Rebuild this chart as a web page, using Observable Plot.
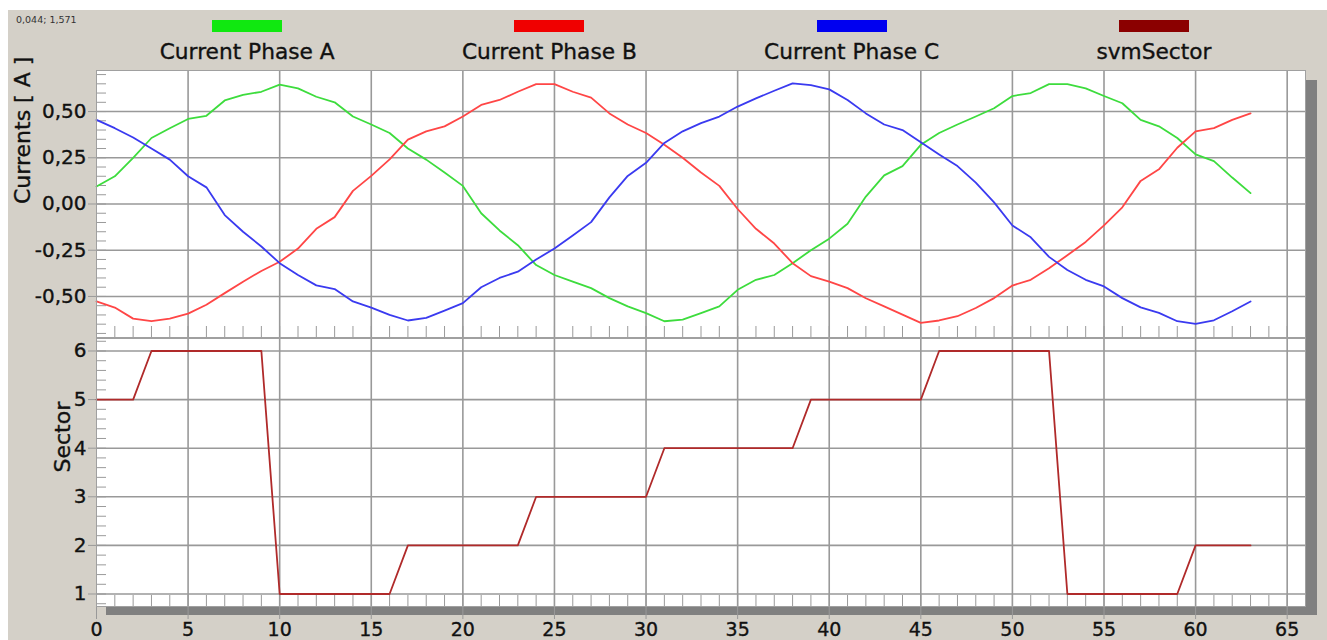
<!DOCTYPE html>
<html>
<head>
<meta charset="utf-8">
<script src="https://cdn.jsdelivr.net/npm/d3@7"></script>
<script src="https://cdn.jsdelivr.net/npm/@observablehq/plot@0.6"></script>
<style>
html, body { margin:0; padding:0; background:#fff; }
#wrap { position:relative; width:1327px; height:640px; overflow:hidden; background:#fff; font-family:"DejaVu Sans", sans-serif; }
#bg { position:absolute; left:8px; top:10px; width:1319px; height:630px; background:#d4d0c8; }
#coord { position:absolute; left:16px; top:14px; font-size:9.5px; line-height:12px; color:#333; }
#shadow { position:absolute; left:106px; top:80px; width:1211px; height:535px; background:#808080; }
#legend { position:absolute; left:96px; top:0; width:1209px; height:66px; display:flex; }
.item { flex:1; position:relative; }
.sw { position:absolute; left:50%; margin-left:-35px; top:20px; width:70px; height:12px; }
.lab { position:absolute; left:0; right:0; top:41px; text-align:center; font-size:21.7px; line-height:21.7px; color:#111; white-space:nowrap; -webkit-text-stroke:0.35px #111; }
#top { position:absolute; left:0; top:0; width:1327px; }
#bottom { position:absolute; left:0; top:337px; width:1327px; }
svg { display:block; }
</style>
</head>
<body>
<div id="wrap">
  <div id="bg"></div>
  <div id="coord">0,044; 1,571</div>
  <div id="shadow"></div>
  <div id="top"></div>
  <div id="bottom"></div>
  <div id="legend"></div>
</div>
<script>
// ---- data ----
const phaseA = [0.095,0.15,0.25,0.357,0.41,0.46,0.477,0.56,0.59,0.607,0.646,0.625,0.58,0.55,0.473,0.43,0.384,0.30,0.24,0.17,0.098,-0.05,-0.143,-0.223,-0.33,-0.384,-0.42,-0.455,-0.509,-0.554,-0.59,-0.634,-0.625,-0.59,-0.554,-0.464,-0.41,-0.384,-0.32,-0.25,-0.1875,-0.107,0.04,0.155,0.205,0.32,0.384,0.43,0.473,0.518,0.584,0.60,0.648,0.648,0.625,0.584,0.545,0.455,0.42,0.357,0.268,0.232,0.143,0.059];
const phaseB = [-0.527,-0.56,-0.62,-0.634,-0.62,-0.593,-0.545,-0.482,-0.42,-0.362,-0.3125,-0.241,-0.134,-0.071,0.071,0.152,0.241,0.348,0.393,0.42,0.473,0.536,0.5625,0.607,0.648,0.648,0.607,0.575,0.49,0.43,0.384,0.32,0.25,0.17,0.098,-0.027,-0.134,-0.214,-0.32,-0.39,-0.42,-0.455,-0.51,-0.554,-0.598,-0.643,-0.63,-0.607,-0.5625,-0.509,-0.441,-0.41,-0.348,-0.277,-0.205,-0.116,-0.018,0.125,0.1875,0.304,0.393,0.41,0.455,0.49];
const phaseC = [0.455,0.41,0.36,0.30,0.24,0.15,0.09,-0.06,-0.15,-0.23,-0.32,-0.384,-0.44,-0.46,-0.527,-0.56,-0.60,-0.63,-0.616,-0.577,-0.536,-0.45,-0.40,-0.366,-0.30,-0.241,-0.17,-0.098,0.036,0.152,0.223,0.33,0.393,0.4375,0.473,0.527,0.571,0.6125,0.652,0.643,0.62,0.5625,0.49,0.43,0.40,0.334,0.268,0.205,0.116,0.009,-0.116,-0.18,-0.286,-0.357,-0.41,-0.446,-0.509,-0.559,-0.589,-0.634,-0.648,-0.629,-0.58,-0.527];
const svmSector = [5,5,5,6,6,6,6,6,6,6,1,1,1,1,1,1,1,2,2,2,2,2,2,2,3,3,3,3,3,3,3,4,4,4,4,4,4,4,4,5,5,5,5,5,5,5,6,6,6,6,6,6,6,1,1,1,1,1,1,1,2,2,2,2];

const xTicks = [0,5,10,15,20,25,30,35,40,45,50,55,60,65];
const currentTicks = [-0.5,-0.25,0,0.25,0.5];
const sectorTicks = [1,2,3,4,5,6];
const seriesNames = ["Current Phase A","Current Phase B","Current Phase C","svmSector"];
const legendColors = ["#10e810","#f00000","#0000f0","#8b0000"];
const lineColors = ["#3ddc3d","#ff4646","#3a3af0","#b02a2a"];
const yTitleTop = "Currents [ A ]";
const yTitleBottom = "Sector";

// ---- layout constants ----
const W = 1327, ML = 96, MR = 22;
const gridColor = "#999999", tickColor = "#9a9a9a", frameColor = "#a0a0a0", textColor = "#111111";
const rows = phaseA.map((a, i) => ({t: i, a, b: phaseB[i], c: phaseC[i], s: svmSector[i]}));
const minorX = d3.range(1, 66);
const minorCurrent = d3.range(-14, 15).map(i => i / 20);
const minorSector = d3.range(4, 32).map(i => i / 5);
const comma2 = d => (Math.abs(d) < 1e-9 ? 0 : d).toFixed(2).replace(".", ",");
const baseStyle = {fontFamily: "DejaVu Sans", fontSize: "20px", background: "transparent", color: textColor, overflow: "visible"};
const txt = {fill: textColor, textStroke: textColor, textStrokeWidth: 0.35};

const topPlot = Plot.plot({
  width: W, height: 339, marginLeft: ML, marginRight: MR, marginTop: 70, marginBottom: 2,
  style: baseStyle,
  x: {domain: [0, 66], axis: null},
  y: {domain: [-0.722, 0.722]},
  marks: [
    Plot.frame({fill: "white"}),
    Plot.ruleX(xTicks.filter(d => d > 0), {stroke: gridColor, strokeWidth: 1.6}),
    Plot.ruleY(currentTicks, {stroke: gridColor, strokeWidth: 1.6}),
    Plot.tickY(minorCurrent, {y: d => d, insetRight: 1199, stroke: tickColor}),
    Plot.tickX(minorX, {x: d => d, insetTop: 256, stroke: tickColor}),
    Plot.axisY({ticks: currentTicks, tickSize: 8, tickPadding: 2, tickFormat: comma2, stroke: gridColor, fontSize: 20, label: null, ...txt}),
    Plot.line(rows, {x: "t", y: "a", stroke: lineColors[0], strokeWidth: 1.8}),
    Plot.line(rows, {x: "t", y: "b", stroke: lineColors[1], strokeWidth: 1.8}),
    Plot.line(rows, {x: "t", y: "c", stroke: lineColors[2], strokeWidth: 1.8}),
    Plot.frame({stroke: frameColor}),
    Plot.text([yTitleTop], {text: d => d, frameAnchor: "left", dx: -74, rotate: -90, fontSize: 22, fill: textColor, stroke: textColor, strokeWidth: 0.35})
  ]
});
document.getElementById("top").append(topPlot);

const bottomPlot = Plot.plot({
  width: W, height: 303, marginLeft: ML, marginRight: MR, marginTop: 1, marginBottom: 34,
  style: baseStyle,
  x: {domain: [0, 66]},
  y: {domain: [0.743, 6.257]},
  marks: [
    Plot.frame({fill: "white"}),
    Plot.ruleX(xTicks.filter(d => d > 0), {stroke: gridColor, strokeWidth: 1.6}),
    Plot.ruleY(sectorTicks, {stroke: gridColor, strokeWidth: 1.6}),
    Plot.tickY(minorSector, {y: d => d, insetRight: 1199, stroke: tickColor}),
    Plot.tickX(minorX, {x: d => d, insetTop: 257, stroke: tickColor}),
    Plot.axisY({ticks: sectorTicks, tickSize: 8, tickPadding: 2, tickFormat: d => String(d), stroke: gridColor, fontSize: 20, label: null, ...txt}),
    Plot.axisX({ticks: xTicks, tickSize: 13, tickPadding: 3, tickFormat: d => String(d), stroke: gridColor, fontSize: 19, label: null, ...txt}),
    Plot.line(rows, {x: "t", y: "s", stroke: lineColors[3], strokeWidth: 1.8}),
    Plot.frame({stroke: frameColor}),
    Plot.text([yTitleBottom], {text: d => d, frameAnchor: "left", dx: -34, rotate: -90, fontSize: 22, fill: textColor, stroke: textColor, strokeWidth: 0.35})
  ]
});
document.getElementById("bottom").append(bottomPlot);

// legend
const legend = document.getElementById("legend");
seriesNames.forEach((name, i) => {
  const item = document.createElement("div");
  item.className = "item";
  const sw = document.createElement("div");
  sw.className = "sw";
  sw.style.background = legendColors[i];
  const lab = document.createElement("div");
  lab.className = "lab";
  lab.textContent = name;
  item.append(sw, lab);
  legend.append(item);
});
</script>
</body>
</html>
